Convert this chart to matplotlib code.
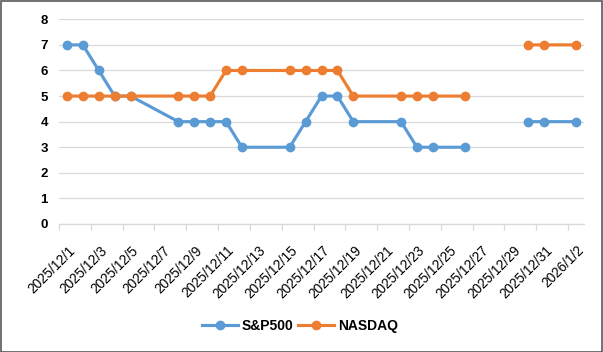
import numpy as np
import pandas as pd
import matplotlib
matplotlib.use("Agg")
import matplotlib.pyplot as plt
import matplotlib.dates as mdates
from matplotlib.transforms import ScaledTranslation
from matplotlib.patches import Rectangle

plt.rcParams["font.family"] = ["Liberation Sans", "DejaVu Sans"]

# data (12/29 left blank -> gap in both lines)
dates = ["2025-12-01", "2025-12-02", "2025-12-03", "2025-12-04", "2025-12-05",
         "2025-12-08", "2025-12-09", "2025-12-10", "2025-12-11", "2025-12-12",
         "2025-12-15", "2025-12-16", "2025-12-17", "2025-12-18", "2025-12-19",
         "2025-12-22", "2025-12-23", "2025-12-24", "2025-12-26", "2025-12-29",
         "2025-12-30", "2025-12-31", "2026-01-02"]
sp500 = [7, 7, 6, 5, 5, 4, 4, 4, 4, 3, 3, 4, 5, 5, 4, 4, 3, 3, 3, np.nan, 4, 4, 4]
nasdaq = [5, 5, 5, 5, 5, 5, 5, 5, 6, 6, 6, 6, 6, 6, 5, 5, 5, 5, 5, np.nan, 7, 7, 7]

tick_dates = pd.date_range("2025-12-01", "2026-01-02", freq="2D")
tick_labels = [f"{d.year}/{d.month}/{d.day}" for d in tick_dates]

blue, orange = "#5B9BD5", "#ED7D31"
grid_c = "#D9D9D9"

fig = plt.figure(figsize=(6.03, 3.52), dpi=100)
ax = fig.add_axes([59 / 603, 1 - 224 / 352, 525 / 603, (224 - 19.3) / 352])

# Excel date axis: each point sits in the middle of its day
x = mdates.date2num(pd.to_datetime(dates)) + 0.5
ax.plot(x, sp500, color=blue, lw=2.25, marker="o", ms=6, label="S&P500", zorder=3)
ax.plot(x, nasdaq, color=orange, lw=2.25, marker="o", ms=6, label="NASDAQ", zorder=4)

ax.set_xlim(mdates.date2num(pd.Timestamp("2025-12-01")), mdates.date2num(pd.Timestamp("2026-01-03")))
ax.set_ylim(0, 8)
ax.set_yticks(range(0, 9))
ax.set_xticks(mdates.date2num(tick_dates))
ax.set_xticklabels(tick_labels)

ax.grid(axis="y", color=grid_c, lw=0.9, zorder=0)
for s in ["top", "right", "left"]:
    ax.spines[s].set_visible(False)
ax.spines["bottom"].set_color(grid_c)
ax.spines["bottom"].set_linewidth(0.9)
ax.tick_params(axis="y", length=0, pad=8, labelsize=9.5)
ax.tick_params(axis="x", length=4.5, color=grid_c, width=0.9, pad=0, labelsize=9.8)
for t in ax.get_yticklabels():
    t.set_fontweight("bold")
for t in ax.get_xticklabels():
    t.set_rotation(45)
    t.set_ha("right")
    t.set_va("top")
    t.set_rotation_mode("anchor")
    t.set_transform(t.get_transform() + ScaledTranslation(0.09, -0.13, fig.dpi_scale_trans))

ax.legend(loc="center", bbox_to_anchor=(300 / 603, 1 - 326 / 352), bbox_transform=fig.transFigure,
          ncol=2, frameon=False, handlelength=2.6, columnspacing=0.35, handletextpad=0.25,
          prop={"weight": "bold", "size": 10})

fig.patches.append(Rectangle((0.5 / 603, 0.5 / 352), 601.5 / 603, 350.5 / 352, transform=fig.transFigure,
                             fill=False, edgecolor="#595959", lw=1.2))

fig.savefig("out.png", dpi=100)
